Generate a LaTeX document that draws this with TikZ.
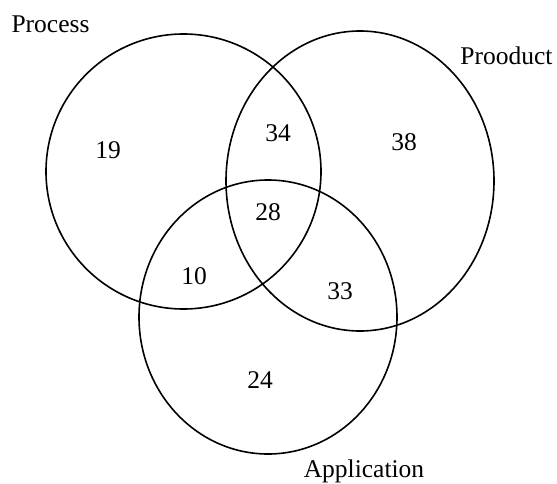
\documentclass[tikz,border=0pt]{standalone}
\usepackage{fontspec}
\setmainfont{Liberation Serif}
\usetikzlibrary{shapes.geometric}

\begin{document}
\begin{tikzpicture}[x=1pt,y=-1pt,
	set/.style={ellipse,draw,line width=1.6pt,inner sep=0pt,outer sep=0pt},
	lbl/.style={anchor=base,inner sep=0pt,font=\fontsize{25.5}{30}\selectfont}]
	\useasboundingbox (0,0) rectangle (557,484);

	\node[set] at (183.5,171.5) [minimum width=275pt,minimum height=275pt] (proc) {};
	\node[set] at (360,181) [minimum width=268pt,minimum height=300pt] (prod) {};
	\node[set] at (268,317) [minimum width=258pt,minimum height=274pt] (appl) {};

	\node[lbl] at (50.5,33) (procL) {Process};
	\node[lbl] at (506.5,65) (prodL) {Prooduct};
	\node[lbl] at (364,477) (applL) {Application};

	\node[lbl] at (108,159) (N1) {19};
	\node[lbl] at (278,142) (N2) {34};
	\node[lbl] at (404,151) (N3) {38};
	\node[lbl] at (268,220) (N4) {28};
	\node[lbl] at (194,284) (N5) {10};
	\node[lbl] at (340,299) (N6) {33};
	\node[lbl] at (260,388) (N7) {24};
\end{tikzpicture}
\end{document}
